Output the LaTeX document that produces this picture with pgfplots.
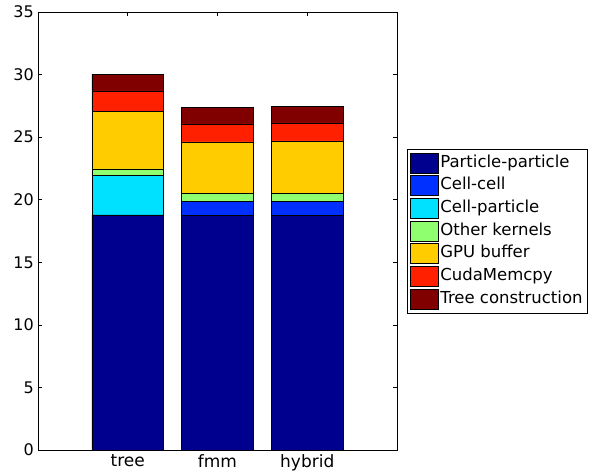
\documentclass[border=0pt]{standalone}
\usepackage{pgfplots}
\pgfplotsset{compat=1.18}
\usepackage{fontspec}
\setmainfont{DejaVu Sans}
\definecolor{cPP}{RGB}{0,0,143}
\definecolor{cCC}{RGB}{0,48,255}
\definecolor{cCP}{RGB}{0,224,255}
\definecolor{cOK}{RGB}{143,255,112}
\definecolor{cGPU}{RGB}{255,204,0}
\definecolor{cCM}{RGB}{255,32,0}
\definecolor{cTC}{RGB}{128,0,0}
\begin{document}
\begin{tikzpicture}[x=1pt,y=1pt]
\begin{axis}[
  at={(0,0)}, anchor=south west,
  scale only axis, width=359pt, height=438pt,
  ybar stacked, bar width=71.8pt,
  xmin=0, xmax=4, ymin=0, ymax=35,
  xtick={1,2,3}, xticklabels={tree,fmm,hybrid},
  ytick={0,5,...,35},
  tick align=inside, major tick length=4pt,
  tick label style={font=\fontsize{16}{19}\selectfont},
  yticklabel style={inner sep=1pt, xshift=-3pt},
  xticklabel style={inner sep=0pt, yshift=-4pt, font=\fontsize{17}{20}\selectfont},
  /pgf/number format/assume math mode=true,
  axis line style={black, line width=0.6pt},
  every tick/.style={black, line width=0.5pt},
  legend style={at={(1.028,0.5)}, anchor=west, draw=black, line width=0.6pt,
    font=\fontsize{16.5}{19}\selectfont, inner sep=2.5pt, row sep=0pt,
    nodes={inner sep=2pt, text height=13.5pt, text depth=5.2pt},
    cells={anchor=west}},
  legend image code/.code={\draw[#1, draw=black, line width=0.5pt] (0pt,-10pt) rectangle (28pt,10pt);},
  legend cell align=left,
  every axis plot/.append style={draw=black, line width=0.6pt},
]
\addplot[fill=cPP] coordinates {(1,18.78) (2,18.76) (3,18.76)};
\addplot[fill=cCC] coordinates {(1,0) (2,1.12) (3,1.12)};
\addplot[fill=cCP] coordinates {(1,3.20) (2,0) (3,0)};
\addplot[fill=cOK] coordinates {(1,0.48) (2,0.64) (3,0.64)};
\addplot[fill=cGPU] coordinates {(1,4.58) (2,4.10) (3,4.18)};
\addplot[fill=cCM] coordinates {(1,1.66) (2,1.44) (3,1.44)};
\addplot[fill=cTC] coordinates {(1,1.33) (2,1.30) (3,1.30)};
\legend{Particle-particle,Cell-cell,Cell-particle,Other kernels,GPU buffer,CudaMemcpy,Tree construction}
\end{axis}
\pgfresetboundingbox
\path[use as bounding box] (-38pt,-23pt) rectangle (554pt,450pt);
\end{tikzpicture}
\end{document}
